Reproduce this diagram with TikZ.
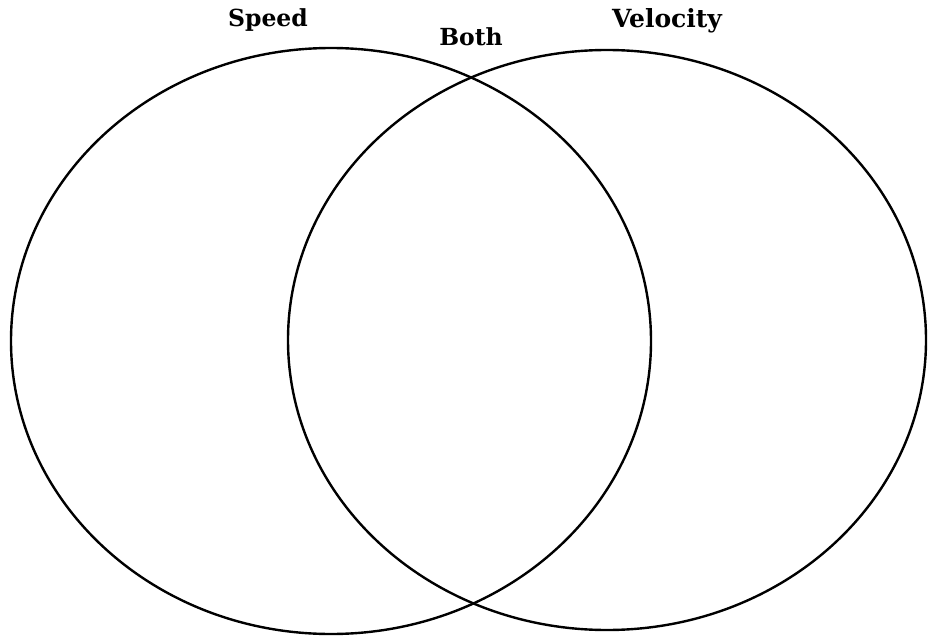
\documentclass[tikz,border=0pt]{standalone}
\usepackage{fontspec}
\setmainfont{DejaVu Serif}
\usetikzlibrary{shapes.geometric,positioning}

\begin{document}
\begin{tikzpicture}[
  x=1pt, y=-1pt,
  circ/.style={draw=black, ellipse, line width=2.4pt,
    inner sep=0pt, outer sep=0pt},
  lbl/.style={font=\fontsize{23.5}{26}\selectfont\bfseries,
    inner sep=0pt, anchor=base}
]
\useasboundingbox (0,0) rectangle (936,639);

\node[circ, minimum width=640pt, minimum height=586pt] (speed) at (331,341) {};
\node[circ, minimum width=638pt, minimum height=580pt] (velocity) at (607,340) {};

\node[lbl] (speedlbl) at (268,27) {Speed};
\node[lbl] (bothlbl) at (471,46) {Both};
\node[lbl, font=\fontsize{25}{28}\selectfont\bfseries] (velocitylbl) at (667,28) {Velocity};
\end{tikzpicture}
\end{document}
